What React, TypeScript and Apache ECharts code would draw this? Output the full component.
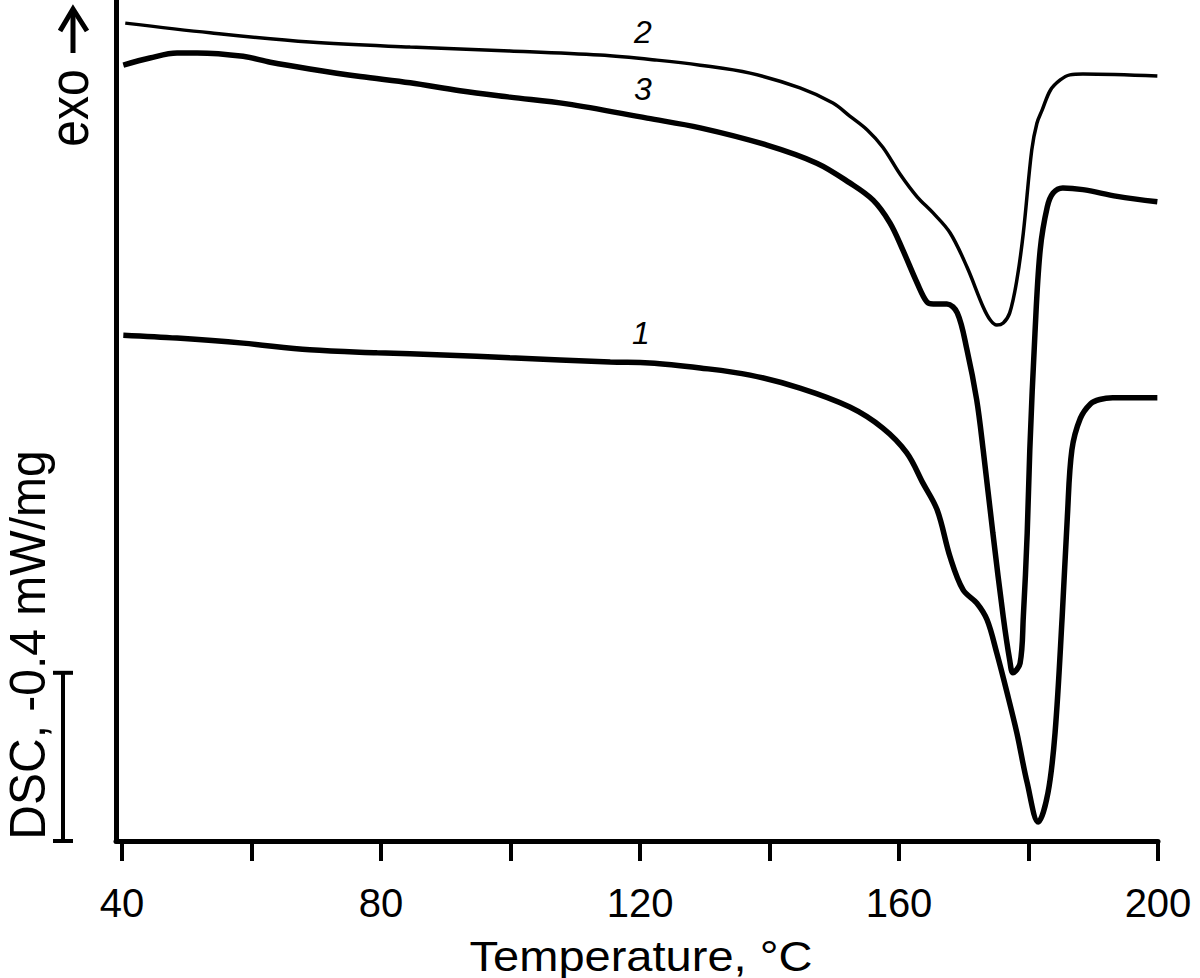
import React, { useEffect, useRef } from "react";
import * as echarts from "echarts";

const FONT = "'Liberation Sans', Arial, Helvetica, sans-serif";

const xTickValues = [40, 60, 80, 100, 120, 140, 160, 180, 200];
const xLabelValues = [40, 80, 120, 160, 200];
const xTitle = "Temperature, °C";

// Curve 1 (bottom, thick)
const curve1T = [40.2, 48.5, 58.7, 69.0, 79.4, 89.6, 99.9, 115.4, 121.5, 129.3, 137.0, 144.7, 152.4, 157.5, 161.2, 163.7, 165.9, 167.9, 169.9, 172.0, 173.6, 175.1, 176.7, 178.2, 179.8, 181.5, 183.0, 184.1, 185.2, 186.0, 186.7, 188.0, 189.6, 191.0, 193.0, 199.9];
const curve1V = [1.203, 1.196, 1.184, 1.168, 1.161, 1.156, 1.149, 1.139, 1.137, 1.125, 1.108, 1.077, 1.032, 0.982, 0.923, 0.851, 0.787, 0.675, 0.597, 0.566, 0.526, 0.447, 0.352, 0.257, 0.138, 0.045, 0.114, 0.257, 0.533, 0.771, 0.930, 1.005, 1.040, 1.050, 1.054, 1.054];

// Curve 2 (top, thin)
const curve2T = [40.5, 53.6, 69.0, 84.5, 99.9, 113.8, 122.6, 129.3, 137.0, 144.7, 149.8, 152.4, 155.1, 157.5, 160.2, 162.8, 165.3, 167.9, 170.5, 173.0, 174.1, 175.1, 176.1, 177.1, 178.2, 179.2, 180.5, 181.3, 182.1, 183.4, 184.9, 186.4, 188.4, 199.9];
const curve2V = [1.945, 1.922, 1.900, 1.888, 1.879, 1.869, 1.857, 1.845, 1.826, 1.791, 1.755, 1.724, 1.691, 1.650, 1.585, 1.532, 1.493, 1.446, 1.365, 1.270, 1.239, 1.227, 1.232, 1.256, 1.334, 1.446, 1.643, 1.707, 1.738, 1.786, 1.810, 1.822, 1.824, 1.819];

// Curve 3 (middle, thick)
const curve3T = [40.2, 44.3, 48.5, 51.6, 58.7, 62.9, 69.0, 76.8, 84.5, 92.2, 99.9, 108.7, 121.1, 129.3, 139.6, 147.3, 152.4, 156.0, 158.6, 160.6, 162.8, 164.3, 165.3, 167.4, 169.0, 170.5, 172.0, 173.0, 174.5, 176.1, 177.1, 177.6, 178.7, 179.2, 179.8, 180.2, 181.0, 181.8, 182.9, 183.8, 185.3, 188.4, 193.7, 199.9];
const curve3V = [1.845, 1.862, 1.874, 1.874, 1.866, 1.852, 1.836, 1.818, 1.803, 1.784, 1.769, 1.753, 1.719, 1.696, 1.655, 1.612, 1.565, 1.524, 1.470, 1.405, 1.327, 1.282, 1.277, 1.277, 1.256, 1.168, 1.049, 0.930, 0.732, 0.533, 0.430, 0.400, 0.423, 0.533, 0.732, 0.930, 1.208, 1.405, 1.508, 1.541, 1.553, 1.549, 1.533, 1.520];

// Curve labels (data coordinates)
const curveLabels = ["1", "2", "3"];
const curveLabelT = [120.15, 120.46, 120.46];
const curveLabelV = [1.208, 1.925, 1.788];

// Scale bar value
const scaleBarValue = 0.4;

const zip = (t: number[], v: number[]) => t.map((x, i) => [x, v[i]]);

export default function App() {
  const ref = useRef<HTMLDivElement>(null);
  useEffect(() => {
    if (!ref.current) return;
    const chart = echarts.init(ref.current, undefined, { renderer: "svg" });
    const lineSeries = (data: number[][], width: number) => ({
      type: "line",
      data,
      symbol: "none",
      showSymbol: false,
      smooth: 0.35,
      lineStyle: { color: "#000", width },
      silent: true,
    });
    chart.setOption({
      animation: false,
      backgroundColor: "#fff",
      grid: { left: 116, right: 42, top: 0, bottom: 137, containLabel: false, outerBoundsMode: "none" },
      xAxis: {
        type: "value",
        min: 39.07,
        max: 200,
        axisLine: { show: true, onZero: false, lineStyle: { color: "#000", width: 5 } },
        axisTick: { show: true, customValues: xTickValues, length: 20, lineStyle: { color: "#000", width: 4 } },
        axisLabel: { show: true, customValues: xLabelValues, margin: 42, fontSize: 40, color: "#000", fontFamily: FONT },
        splitLine: { show: false },
      },
      yAxis: {
        type: "value",
        min: 0,
        max: 2,
        axisLine: { show: true, onZero: false, lineStyle: { color: "#000", width: 5 } },
        axisTick: { show: false },
        axisLabel: { show: false },
        splitLine: { show: false },
      },
      series: [
        lineSeries(zip(curve1T, curve1V), 5.5),
        lineSeries(zip(curve2T, curve2V), 3.5),
        lineSeries(zip(curve3T, curve3V), 5.5),
      ],
    });

    const y0 = chart.convertToPixel({ yAxisIndex: 0 }, 0) as number;
    const y1 = chart.convertToPixel({ yAxisIndex: 0 }, scaleBarValue) as number;
    const barX = 63;
    const centered = { align: "center", verticalAlign: "middle", textAlign: "center", textVerticalAlign: "middle" };
    const graphics: any[] = [
      { type: "line", shape: { x1: barX, y1: y1, x2: barX, y2: y0 }, style: { stroke: "#000", lineWidth: 4 } },
      { type: "line", shape: { x1: barX - 10, y1: y1, x2: barX + 10, y2: y1 }, style: { stroke: "#000", lineWidth: 4 } },
      { type: "line", shape: { x1: barX - 10, y1: y0, x2: barX + 10, y2: y0 }, style: { stroke: "#000", lineWidth: 4 } },
      {
        type: "text",
        x: 27,
        y: 645,
        rotation: Math.PI / 2,
        scaleY: 1.05,
        style: { text: "DSC, -0.4 mW/mg", fontSize: 48, fontFamily: FONT, fill: "#000", ...centered },
      },
      {
        type: "text",
        x: 69,
        y: 108,
        rotation: Math.PI / 2,
        scaleY: 1.15,
        style: { text: "exo", fontSize: 48, fontFamily: FONT, fill: "#000", ...centered },
      },
      { type: "line", shape: { x1: 73, y1: 53, x2: 73, y2: 9 }, style: { stroke: "#000", lineWidth: 5 } },
      { type: "polyline", shape: { points: [[60, 31], [73, 9], [87, 31]] }, style: { stroke: "#000", lineWidth: 5, fill: "none" } },
      {
        type: "text",
        x: 641,
        y: 956,
        scaleX: 1.12,
        style: { text: xTitle, fontSize: 42, fontFamily: FONT, fill: "#000", ...centered },
      },
    ];
    curveLabels.forEach((lab, i) => {
      const p = chart.convertToPixel({ xAxisIndex: 0, yAxisIndex: 0 }, [curveLabelT[i], curveLabelV[i]]) as number[];
      graphics.push({
        type: "text",
        x: p[0],
        y: p[1],
        style: { text: lab, fontSize: 32, fontStyle: "italic", fontFamily: FONT, fill: "#000", ...centered },
      });
    });
    chart.setOption({ graphic: graphics });
    return () => chart.dispose();
  }, []);
  return <div ref={ref} style={{ position: "fixed", left: 0, top: 0, width: 1200, height: 978 }} />;
}
